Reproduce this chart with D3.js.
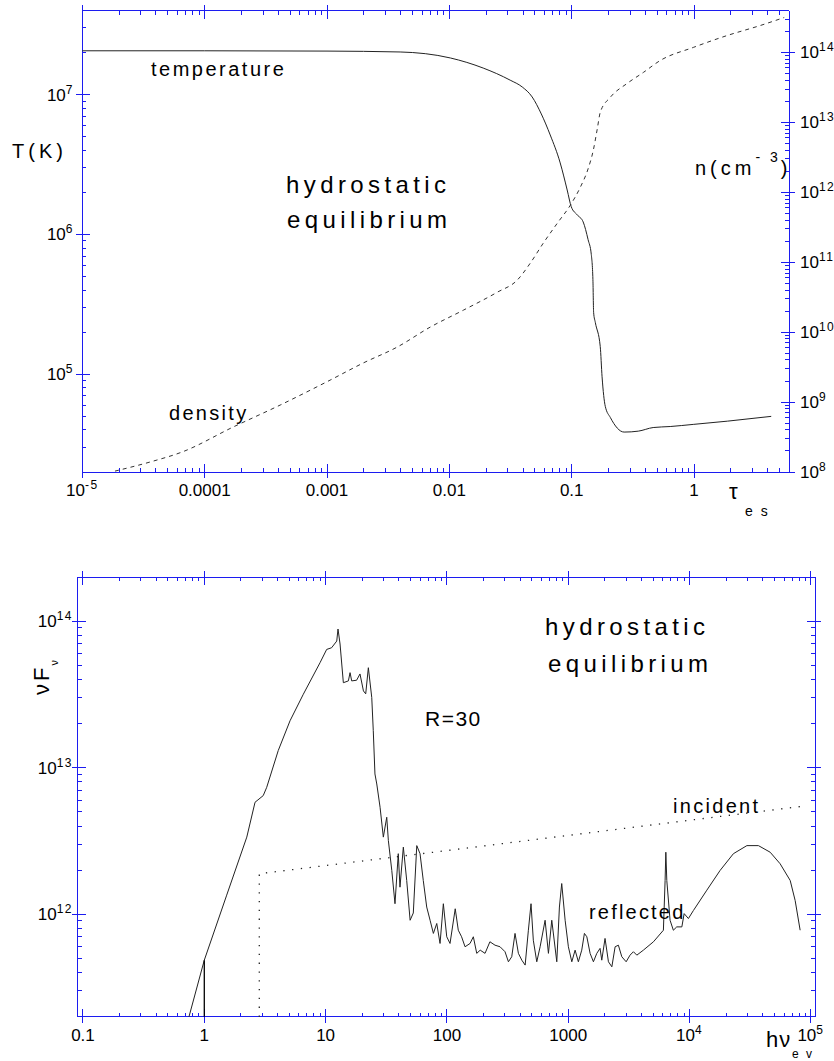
<!DOCTYPE html>
<html><head><meta charset="utf-8">
<script src="https://cdn.jsdelivr.net/npm/d3@7"></script>
<style>
body{margin:0;background:#fff}
svg{display:block}
text{font-family:"Liberation Sans",Arial,Helvetica,sans-serif;fill:#000}
</style>
</head><body>
<svg id="c" width="834" height="1061"></svg>
<script>
// ---------- DATA ----------
// Top panel: temperature and density vs electron-scattering optical depth
const tauTemp = [1e-5, 1e-4, 1e-3, 0.00396, 0.0102, 0.0189, 0.0314, 0.0394, 0.0475, 0.0564, 0.0667, 0.0805, 0.0918, 0.0991, 0.111, 0.124, 0.136, 0.1445, 0.149, 0.151, 0.156, 0.171, 0.177, 0.188, 0.207, 0.268, 0.350, 0.463, 0.638, 0.984, 1.87, 4.27];
const temperature = [2.06e7, 2.06e7, 2.05e7, 2.02e7, 1.83e7, 1.55e7, 1.27e7, 1.135e7, 9.63e6, 7.28e6, 5.15e6, 3.25e6, 2.08e6, 1.58e6, 1.38e6, 1.23e6, 9.2e5, 7.2e5, 4.75e5, 2.76e5, 2.34e5, 1.58e5, 9.6e4, 5.9e4, 4.9e4, 3.86e4, 3.92e4, 4.16e4, 4.23e4, 4.38e4, 4.62e4, 5.0e4];
const tauDens = [1.85e-5, 3.58e-5, 6.53e-5, 1.71e-4, 4.14e-4, 1.06e-3, 1.97e-3, 3.74e-3, 6.97e-3, 0.0130, 0.0246, 0.0358, 0.0458, 0.0585, 0.0762, 0.0973, 0.1175, 0.1365, 0.150, 0.162, 0.171, 0.2065, 0.284, 0.385, 0.530, 0.986, 1.87, 3.48, 5.45];
const density = [1.03e8, 1.39e8, 1.93e8, 4.40e8, 9.06e8, 2.06e9, 3.61e9, 6.11e9, 1.18e10, 2.06e10, 3.72e10, 5.53e10, 9.68e10, 1.87e11, 3.61e11, 6.52e11, 1.18e12, 2.20e12, 3.98e12, 8.20e12, 1.39e13, 2.28e13, 3.61e13, 5.18e13, 7.69e13, 1.18e14, 1.75e14, 2.43e14, 3.16e14];

// Bottom panel: reflected and incident spectra (nuF_nu vs photon energy in eV)
const energyRefl = [0.748, 1.0, 1.53, 2.24, 2.62, 3.06, 3.27, 4.07, 5.09, 6.55, 8.99, 10.2, 11.2, 12.35, 12.65, 13.15, 14.0, 15.4, 15.9, 16.4, 18.0, 19.2, 20.5, 21.4, 22.5, 24.0, 24.7, 25.5, 26.4, 28.1, 29.9, 31.9, 32.9, 35.1, 37.3, 39.7, 41.0, 43.7, 46.6, 49.7, 52.8, 56.4, 60.0, 63.8, 68.1, 72.6, 77.3, 82.4, 87.7, 93.4, 99.6, 106, 117, 124, 132, 141, 155, 165, 176, 188, 206, 226, 249, 274, 301, 321, 342, 364, 388, 414, 441, 469, 493, 515, 550, 586, 644, 686, 731, 804, 845, 883, 942, 1002, 1069, 1138, 1211, 1291, 1358, 1422, 1513, 1611, 1718, 1828, 1888, 2009, 2143, 2286, 2432, 2588, 2761, 2999, 3228, 3443, 3673, 4159, 5035, 6081, 6281, 6368, 6486, 6902, 7345, 7834, 8630, 9015, 9772, 10740, 13870, 17830, 22960, 29650, 36900, 46130, 55720, 67450, 74130, 81470];
const fluxRefl = [2.0e11, 4.86e11, 1.35e12, 3.36e12, 5.81e12, 6.45e12, 7.35e12, 1.31e13, 2.09e13, 3.17e13, 5.20e13, 6.41e13, 6.58e13, 7.31e13, 8.83e13, 6.98e13, 3.80e13, 3.91e13, 4.45e13, 3.91e13, 3.95e13, 4.36e13, 3.34e13, 3.19e13, 4.81e13, 3.01e13, 1.79e13, 9.06e12, 7.74e12, 5.37e12, 3.36e12, 4.59e12, 3.18e12, 1.99e12, 1.18e12, 2.59e12, 1.53e12, 2.87e12, 1.70e12, 9.10e11, 1.02e12, 2.94e12, 2.59e12, 1.70e12, 1.12e12, 9.10e11, 7.40e11, 8.65e11, 6.32e11, 1.18e12, 7.02e11, 6.32e11, 1.09e12, 7.78e11, 7.02e11, 6.00e11, 6.32e11, 7.02e11, 5.41e11, 5.69e11, 5.41e11, 6.49e11, 6.15e11, 6.00e11, 5.55e11, 4.74e11, 5.13e11, 7.40e11, 5.41e11, 4.86e11, 4.50e11, 7.78e11, 1.18e12, 6.65e11, 4.74e11, 6.00e11, 9.10e11, 5.41e11, 9.10e11, 4.74e11, 1.12e12, 1.62e12, 9.10e11, 6.00e11, 4.74e11, 5.69e11, 4.74e11, 5.69e11, 7.40e11, 7.02e11, 5.41e11, 4.74e11, 5.41e11, 5.85e11, 4.86e11, 6.84e11, 4.74e11, 4.38e11, 6.00e11, 6.15e11, 5.13e11, 4.74e11, 5.26e11, 5.55e11, 5.26e11, 5.69e11, 6.49e11, 7.78e11, 1.70e12, 2.65e12, 1.70e12, 9.10e11, 7.78e11, 8.20e11, 8.20e11, 1.01e12, 9.35e11, 1.06e12, 1.46e12, 1.99e12, 2.59e12, 2.94e12, 2.94e12, 2.65e12, 2.21e12, 1.70e12, 1.24e12, 7.78e11];
const energyEdge = [1.0, 1.0];
const fluxEdge = [2.0e11, 4.86e11];
const energyInc = [2.84, 2.84, 100, 1e4, 8.15e4];
const fluxInc = [2.0e11, 1.89e12, 2.72e12, 4.38e12, 5.43e12];

// Tick labels
const tauTickValues = [1e-5, 1e-4, 1e-3, 0.01, 0.1, 1];
const tauTickLabels = [["10", "-5"], ["0.0001", ""], ["0.001", ""], ["0.01", ""], ["0.1", ""], ["1", ""]];
const tempTickValues = [1e5, 1e6, 1e7];
const tempTickLabels = [["10", "5"], ["10", "6"], ["10", "7"]];
const densTickValues = [1e8, 1e9, 1e10, 1e11, 1e12, 1e13, 1e14];
const densTickLabels = [["10", "8"], ["10", "9"], ["10", "10"], ["10", "11"], ["10", "12"], ["10", "13"], ["10", "14"]];
const energyTickValues = [0.1, 1, 10, 100, 1000, 1e4, 1e5];
const energyTickLabels = [["0.1", ""], ["1", ""], ["10", ""], ["100", ""], ["1000", ""], ["10", "4"], ["10", "5"]];
const fluxTickValues = [1e12, 1e13, 1e14];
const fluxTickLabels = [["10", "12"], ["10", "13"], ["10", "14"]];

// ---------- DRAWING ----------
const svg = d3.select("#c");
const AX = "#1c1cf0";

const xTau = d3.scaleLog().domain([1e-5, 6]).range([82.3, 789.3]);
const yTemp = d3.scaleLog().domain([2e4, 4e7]).range([472, 10.5]);
const yDens = d3.scaleLog().domain([1e8, 3.98e14]).range([472, 10.5]);

const xE = d3.scaleLog().domain([0.0905, 1.08e5]).range([77.7, 815]);
const yF = d3.scaleLog().domain([2e11, 2e14]).range([1016.7, 577]);

function logTicks(domain) {
  const a = domain[0], b = domain[1];
  const lo = Math.floor(Math.log10(a)), hi = Math.ceil(Math.log10(b));
  const major = [], minor = [];
  for (let e = lo; e <= hi; e++) for (let k = 1; k < 10; k++) {
    const v = k * Math.pow(10, e);
    if (v < a * (1 - 1e-6) || v > b * (1 + 1e-6)) continue;
    (k === 1 ? major : minor).push(v);
  }
  return {major, minor};
}

function frame(x, y, yR) {
  const g = svg.append("g").attr("stroke", AX).attr("stroke-width", 1).attr("shape-rendering", "crispEdges");
  const [x0, x1] = x.range();
  const [y0, y1] = y.range();
  const seg = (a, b, c, d) => g.append("line").attr("x1", a).attr("y1", b).attr("x2", c).attr("y2", d);
  seg(x0, y0, x1, y0); seg(x0, y1, x1, y1); seg(x0, y0, x0, y1); seg(x1, y0, x1, y1);
  const xt = logTicks(x.domain());
  xt.major.forEach(v => { const p = x(v); seg(p, y0 + 6, p, y0 - 8); seg(p, y1 - 6, p, y1 + 8); });
  xt.minor.forEach(v => { const p = x(v); seg(p, y0, p, y0 - 4); seg(p, y1, p, y1 + 4); });
  const yt = logTicks(y.domain());
  yt.major.forEach(v => { const p = y(v); seg(x0 - 6, p, x0 + 8, p); });
  yt.minor.forEach(v => { const p = y(v); seg(x0, p, x0 + 4, p); });
  const rt = logTicks(yR.domain());
  rt.major.forEach(v => { const p = yR(v); seg(x1 + 6, p, x1 - 8, p); });
  rt.minor.forEach(v => { const p = yR(v); seg(x1, p, x1 - 4, p); });
}

function label(x, y, anchor, parts, size) {
  const t = svg.append("text").attr("x", x).attr("y", y).attr("text-anchor", anchor).attr("font-size", size);
  t.append("tspan").text(parts[0]);
  if (parts[1]) t.append("tspan").attr("font-size", 12).attr("letter-spacing", 1.5).attr("dy", -7).text(parts[1]);
  return t;
}

function txt(x, y, s, size, ls) {
  return svg.append("text").attr("x", x).attr("y", y).attr("font-size", size).attr("letter-spacing", ls).text(s);
}

// Top panel
frame(xTau, yTemp, yDens);
tauTickValues.forEach((v, i) => label(xTau(v), 496, "middle", tauTickLabels[i], 17));
tempTickValues.forEach((v, i) => label(74, yTemp(v) + 6, "end", tempTickLabels[i], 17));
densTickValues.forEach((v, i) => label(800, yDens(v) + 6, "start", densTickLabels[i], 17));

const lineT = d3.line().x(d => xTau(d[0])).y(d => yTemp(d[1])).curve(d3.curveMonotoneX);
const lineN = d3.line().x(d => xTau(d[0])).y(d => yDens(d[1])).curve(d3.curveMonotoneX);
svg.append("path").attr("d", lineT(d3.zip(tauTemp, temperature)))
  .attr("fill", "none").attr("stroke", "#222").attr("stroke-width", 1);
svg.append("path").attr("d", lineN(d3.zip(tauDens, density)))
  .attr("fill", "none").attr("stroke", "#333").attr("stroke-width", 1).attr("stroke-dasharray", "4,4");

txt(12, 158, "T(K)", 20, 4);
const nl = svg.append("text").attr("x", 695).attr("y", 175).attr("font-size", 20).attr("letter-spacing", 4);
nl.append("tspan").text("n(cm");
nl.append("tspan").attr("font-size", 14).attr("dy", -13).attr("letter-spacing", 3).text("- 3");
nl.append("tspan").attr("dy", 13).text(")");
txt(151, 76, "temperature", 20, 2.5);
txt(169, 420, "density", 20, 2.3);
txt(286, 193, "hydrostatic", 24, 4.4);
txt(287, 228, "equilibrium", 24, 4.4);
txt(729, 499, "τ", 22, 0);
txt(745, 516, "e s", 14, 2);

// Bottom panel
frame(xE, yF, yF);
energyTickValues.forEach((v, i) => label(xE(v), 1041, "middle", energyTickLabels[i], 17));
fluxTickValues.forEach((v, i) => label(73, yF(v) + 6, "end", fluxTickLabels[i], 17));

const lineS = d3.line().x(d => xE(d[0])).y(d => yF(d[1]));
svg.append("path").attr("d", lineS(d3.zip(energyInc, fluxInc)))
  .attr("fill", "none").attr("stroke", "#222").attr("stroke-width", 1.3).attr("stroke-dasharray", "1.3,7.5");
svg.append("path").attr("d", lineS(d3.zip(energyRefl, fluxRefl)))
  .attr("fill", "none").attr("stroke", "#222").attr("stroke-width", 1);
svg.append("path").attr("d", lineS(d3.zip(energyEdge, fluxEdge)))
  .attr("fill", "none").attr("stroke", "#000").attr("stroke-width", 1.3);

const vf = svg.append("text").attr("transform", "translate(49,695) rotate(-90)").attr("font-size", 22).attr("letter-spacing", 3);
vf.append("tspan").text("νF");
vf.append("tspan").attr("font-size", 11).attr("dy", 9).attr("dx", -1).text("ν");

txt(545, 635, "hydrostatic", 24, 4.4);
txt(548, 672, "equilibrium", 24, 4.4);
txt(425, 726, "R=30", 21, 1.5);
txt(673, 813, "incident", 20, 2.3);
txt(589, 919, "reflected", 20, 2.2);
txt(766, 1047, "hν", 22, 1);
txt(792, 1058, "e v", 12, 2);
</script>
</body></html>
